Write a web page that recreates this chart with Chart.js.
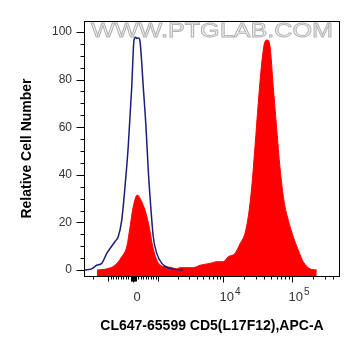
<!DOCTYPE html>
<html>
<head>
<meta charset="utf-8">
<script src="https://cdn.jsdelivr.net/npm/chart.js@4/dist/chart.umd.min.js"></script>
<style>
  html, body { margin: 0; padding: 0; background: #fff; }
  #wrap { width: 361px; height: 356px; }
</style>
</head>
<body>
<div id="wrap"><canvas id="histChart" width="361" height="356"></canvas></div>
<script>
// Display channels (0..1024)
const blueX = [4, 30, 51, 71, 91, 124, 137, 151, 164, 177, 191, 200, 207, 211, 218, 224, 237, 248, 257, 267, 277, 291, 311, 344, 396];
const blueY = [0, 0.5, 2, 2.8, 7, 12, 14, 21, 35, 52, 77, 96.6, 97.8, 97.3, 97.5, 96, 77, 60, 42, 26.6, 14, 7, 2.8, 0.7, 0];

const redX = [52, 91, 124, 151, 171, 184, 197, 213, 231, 248, 261, 275, 291, 317, 344, 371, 384, 437, 464, 504, 531, 557, 577, 604, 624, 644, 657, 671, 684, 697, 711, 724, 733, 744, 757, 771, 784, 800, 817, 837, 857, 877, 904, 931];
const redY = [0, 0.5, 2, 5.6, 9.8, 18, 26.6, 31.5, 28.7, 23.8, 18, 9.8, 4.2, 1.5, 1.2, 0.5, 1, 1, 2, 2.8, 3.5, 3.5, 5.6, 7, 11, 15.4, 22.4, 35, 52, 70, 87, 96, 96.6, 94, 77, 59, 43, 29, 21, 14, 8.4, 3.5, 0.5, 0];

// Tick positions (channels) and labels
const xLabelTicks = [196, 555, 831];
const xLabels = ['0', '10', '10'];
const xExponents = ['', '4', '5'];
const xMidTicks = [96, 296];
const xMinorTicks = [37, 106, 116, 126, 136, 146, 156, 166, 176, 186, 206, 216, 226, 236, 246, 256, 266, 276, 286,
  374, 420, 452, 477, 498, 515, 530, 543,
  638, 687, 721, 748, 770, 788, 804, 818,
  914, 963, 997];
const xZeroBlock = [186, 189, 192, 195, 198, 201, 204, 207];
const yLabelTicks = [0, 20, 40, 60, 80, 100];
const yMinorTicks = [5, 10, 15, 25, 30, 35, 45, 50, 55, 65, 70, 75, 85, 90, 95];

const blueData = blueX.map((x, i) => ({ x, y: blueY[i] }));
const redData = redX.map((x, i) => ({ x, y: redY[i] }));

const FONT = '"Liberation Sans", Arial, sans-serif';
const LABEL_OFFSET = 4;

// watermark text behind the histograms
const watermark = {
  id: 'watermark',
  beforeDatasetsDraw(chart) {
    const { ctx } = chart;
    const text = 'WWW.PTGLAB.COM';
    ctx.save();
    ctx.font = '21px ' + FONT;
    const w = ctx.measureText(text).width;
    const target = 242;
    ctx.translate(212 - target / 2, 31);
    ctx.scale(target / w, 1);
    ctx.textBaseline = 'middle';
    ctx.fillStyle = '#f0f0f0';
    ctx.strokeStyle = '#b4b4b4';
    ctx.lineWidth = 0.9;
    ctx.fillText(text, 0, 0);
    ctx.strokeText(text, 0, 0);
    ctx.restore();
  }
};

// frame, tick marks of different lengths, exponents of the decade labels
const frameTicks = {
  id: 'frameTicks',
  afterDraw(chart) {
    const { ctx, chartArea: a, scales: { x, y } } = chart;
    ctx.save();
    ctx.strokeStyle = '#000';
    ctx.lineWidth = 1;
    ctx.strokeRect(a.left + 0.5, a.top + 0.5, a.right - a.left - 1, a.bottom - a.top);
    const b = a.bottom + 0.5;
    const xt = (list, len) => list.forEach(v => {
      const p = Math.round(x.getPixelForValue(v)) + 0.5;
      ctx.moveTo(p, b); ctx.lineTo(p, b + len);
    });
    const yt = (list, len) => list.forEach(v => {
      const p = Math.round(y.getPixelForValue(v)) + 0.5;
      ctx.moveTo(a.left + 0.5, p); ctx.lineTo(a.left + 0.5 - len, p);
    });
    ctx.beginPath();
    xt(xLabelTicks, 6);
    xt(xMidTicks, 5);
    xt(xMinorTicks, 3);
    xt(xZeroBlock, 5);
    yt(yLabelTicks, 8);
    yt(yMinorTicks, 4);
    ctx.stroke();

    ctx.fillStyle = '#333';
    ctx.textBaseline = 'top';
    ctx.textAlign = 'left';
    xLabelTicks.forEach((v, i) => {
      if (!xExponents[i]) return;
      ctx.font = '13px ' + FONT;
      const half = ctx.measureText(xLabels[i]).width / 2;
      const p = x.getPixelForValue(v) + LABEL_OFFSET + half + 1;
      ctx.font = '10px ' + FONT;
      ctx.fillText(xExponents[i], p, a.bottom + 11);
    });
    ctx.restore();
  }
};

new Chart(document.getElementById('histChart'), {
  type: 'line',
  data: {
    datasets: [
      {
        label: 'Isotype',
        data: blueData,
        borderColor: '#1c1c7c',
        borderWidth: 1.5,
        pointRadius: 0,
        fill: false,
        cubicInterpolationMode: 'monotone',
        order: 0
      },
      {
        label: 'CD5',
        data: redData,
        borderColor: '#ff0000',
        backgroundColor: '#ff0000',
        borderWidth: 1,
        pointRadius: 0,
        fill: 'start',
        cubicInterpolationMode: 'monotone',
        order: 1
      }
    ]
  },
  options: {
    responsive: false,
    animation: false,
    layout: { padding: { top: 21, right: 21, left: 0, bottom: 0 } },
    plugins: { legend: { display: false }, tooltip: { enabled: false } },
    scales: {
      x: {
        type: 'linear',
        min: 0,
        max: 1024,
        afterFit: s => { s.height = 80; },
        afterBuildTicks: s => { s.ticks = xLabelTicks.map(v => ({ value: v })); },
        grid: { display: false, drawTicks: false },
        border: { display: false },
        ticks: {
          padding: 14,
          labelOffset: LABEL_OFFSET,
          maxRotation: 0,
          autoSkip: false,
          color: '#333',
          font: { family: FONT, size: 13 },
          callback: v => xLabels[xLabelTicks.indexOf(v)]
        },
        title: {
          display: true,
          text: 'CL647-65599 CD5(L17F12),APC-A',
          color: '#000',
          font: { family: FONT, size: 14, weight: 'bold' },
          padding: { top: 0, bottom: 21 }
        }
      },
      y: {
        min: -2.5,
        max: 104.6,
        afterFit: s => { s.width = 84; },
        afterBuildTicks: s => { s.ticks = yLabelTicks.map(v => ({ value: v })); },
        grid: { display: false, drawTicks: false },
        border: { display: false },
        ticks: {
          padding: 12,
          color: '#333',
          font: { family: FONT, size: 12 }
        },
        title: {
          display: true,
          text: 'Relative Cell Number',
          color: '#000',
          font: { family: FONT, size: 14, weight: 'bold' },
          padding: { top: 19, bottom: 0 }
        }
      }
    }
  },
  plugins: [watermark, frameTicks]
});
</script>
</body>
</html>
